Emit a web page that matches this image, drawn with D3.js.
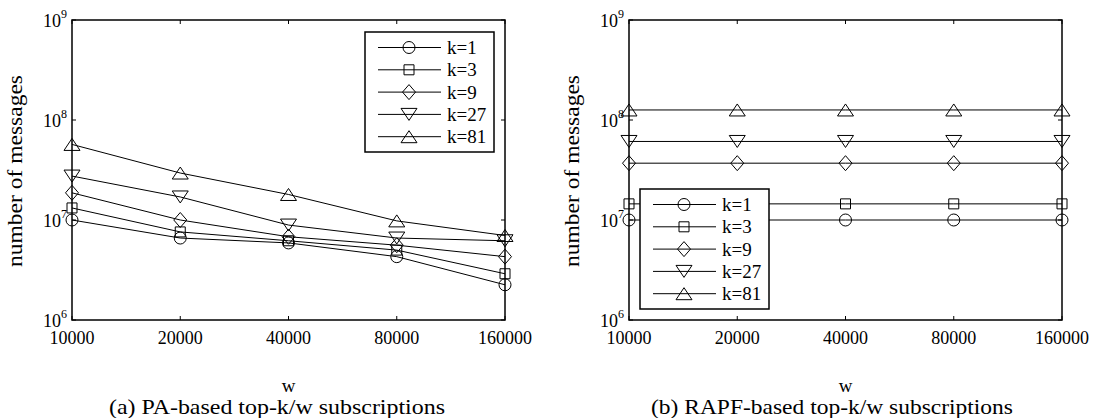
<!DOCTYPE html>
<html>
<head>
<meta charset="utf-8">
<script src="https://cdn.jsdelivr.net/npm/d3@7"></script>
<style>
  body { margin: 0; background: #fff; }
</style>
</head>
<body>
<svg class="chart"></svg>
<script>
// x categories (w) and series labels
const wValues = ['10000', '20000', '40000', '80000', '160000'];
const kLabels = ['k=1', 'k=3', 'k=9', 'k=27', 'k=81'];
const yTicks = [6, 7, 8, 9]; // decades

// (a) PA-based values, one array per k
const paK1 = [1.0e7, 6.6e6, 5.9e6, 4.3e6, 2.25e6];
const paK3 = [1.32e7, 7.6e6, 6.2e6, 5.0e6, 2.9e6];
const paK9 = [1.87e7, 1.0e7, 6.8e6, 5.6e6, 4.3e6];
const paK27 = [2.75e7, 1.7e7, 8.9e6, 6.6e6, 6.2e6];
const paK81 = [5.7e7, 2.95e7, 1.8e7, 9.8e6, 7.0e6];

// (b) RAPF-based values
const rapfK1 = [1.0e7, 1.0e7, 1.0e7, 1.0e7, 1.0e7];
const rapfK3 = [1.45e7, 1.45e7, 1.45e7, 1.45e7, 1.45e7];
const rapfK9 = [3.7e7, 3.7e7, 3.7e7, 3.7e7, 3.7e7];
const rapfK27 = [6.1e7, 6.1e7, 6.1e7, 6.1e7, 6.1e7];
const rapfK81 = [1.26e8, 1.26e8, 1.26e8, 1.26e8, 1.26e8];

const svgWidth = 1096;
const svgHeight = 418;
const svg = d3.select('.chart')
  .attr('width', svgWidth)
  .attr('height', svgHeight)
  .attr('font-family', "'Liberation Serif', 'Times New Roman', Times, serif");

// marker shapes (matlab style: o, s, d, v, ^)
const markers = [
  'M6,0A6,6 0 1,1 -6,0A6,6 0 1,1 6,0Z',
  'M-5,-5H5V5H-5Z',
  'M0,-7.5L6.5,0L0,7.5L-6.5,0Z',
  'M-8,-6H8L0,6Z',
  'M-8,6H8L0,-6Z'
];

function drawPanel(opts) {
  const x0 = opts.left, x1 = opts.left + 433;
  const y0 = 20, y1 = 320;

  const xScale = d3.scalePoint().domain(wValues).range([x0, x1]);
  const yScale = d3.scaleLog().domain([1e6, 1e9]).range([y1, y0]);

  const g = svg.append('g');

  // series lines + markers
  opts.series.forEach((vals, i) => {
    const line = d3.line()
      .x((d, j) => xScale(wValues[j]))
      .y(d => yScale(d));
    g.append('path')
      .datum(vals)
      .attr('fill', 'none')
      .attr('stroke', '#000')
      .attr('stroke-width', 1)
      .attr('d', line);
    g.selectAll('.m' + i)
      .data(vals)
      .enter()
      .append('path')
      .attr('transform', (d, j) => 'translate(' + xScale(wValues[j]) + ',' + yScale(d) + ')')
      .attr('d', markers[i])
      .attr('fill', 'none')
      .attr('stroke', '#000')
      .attr('stroke-width', 1);
  });

  // frame
  g.append('rect')
    .attr('x', x0).attr('y', y0)
    .attr('width', x1 - x0).attr('height', y1 - y0)
    .attr('fill', 'none')
    .attr('stroke', '#000')
    .attr('stroke-width', 1.5);

  // x ticks (inside, bottom and top)
  wValues.forEach(w => {
    const x = xScale(w);
    g.append('line').attr('x1', x).attr('x2', x).attr('y1', y1).attr('y2', y1 - 4)
      .attr('stroke', '#000');
    g.append('line').attr('x1', x).attr('x2', x).attr('y1', y0).attr('y2', y0 + 4)
      .attr('stroke', '#000');
    g.append('text')
      .attr('x', x)
      .attr('y', 344)
      .attr('text-anchor', 'middle')
      .attr('font-size', '18px')
      .text(w);
  });

  // y ticks (decades)
  yTicks.forEach(p => {
    const y = yScale(Math.pow(10, p));
    g.append('line').attr('x1', x0).attr('x2', x0 + 4).attr('y1', y).attr('y2', y)
      .attr('stroke', '#000');
    g.append('line').attr('x1', x1).attr('x2', x1 - 4).attr('y1', y).attr('y2', y)
      .attr('stroke', '#000');
    const t = g.append('text')
      .attr('x', x0 - 5)
      .attr('y', y + 7)
      .attr('text-anchor', 'end')
      .attr('font-size', '18px');
    t.append('tspan').text('10');
    t.append('tspan').attr('font-size', '12px').attr('dy', -9).text(p);
  });

  // axis labels
  g.append('text')
    .attr('x', (x0 + x1) / 2)
    .attr('y', 392)
    .attr('text-anchor', 'middle')
    .attr('font-size', '19px')
    .text('w');

  g.append('text')
    .attr('transform', 'translate(' + (x0 - 50) + ',' + 171 + ') rotate(-90)')
    .attr('text-anchor', 'middle')
    .attr('font-size', '21px')
    .attr('textLength', 192)
    .attr('lengthAdjust', 'spacingAndGlyphs')
    .text('number of messages');

  // caption
  g.append('text')
    .attr('x', opts.capX)
    .attr('y', 414)
    .attr('text-anchor', 'middle')
    .attr('font-size', '21px')
    .attr('textLength', opts.capW)
    .attr('lengthAdjust', 'spacingAndGlyphs')
    .text(opts.caption);

  // legend
  const lg = opts.legend;
  g.append('rect')
    .attr('x', lg.x).attr('y', lg.y)
    .attr('width', 129).attr('height', 120)
    .attr('fill', '#fff')
    .attr('stroke', '#000')
    .attr('stroke-width', 1.5);
  kLabels.forEach((k, i) => {
    const yy = lg.y + 15.5 + i * 22.3;
    g.append('line')
      .attr('x1', lg.x + 13).attr('x2', lg.x + 76)
      .attr('y1', yy).attr('y2', yy)
      .attr('stroke', '#000');
    g.append('path')
      .attr('transform', 'translate(' + (lg.x + 44) + ',' + yy + ')')
      .attr('d', markers[i])
      .attr('fill', 'none')
      .attr('stroke', '#000');
    g.append('text')
      .attr('x', lg.x + 82)
      .attr('y', yy + 6.5)
      .attr('font-size', '19px')
      .text(k);
  });
}

drawPanel({
  left: 72,
  series: [paK1, paK3, paK9, paK27, paK81],
  legend: { x: 365, y: 32 },
  caption: '(a) PA-based top-k/w subscriptions',
  capX: 277, capW: 336
});

drawPanel({
  left: 629,
  series: [rapfK1, rapfK3, rapfK9, rapfK27, rapfK81],
  legend: { x: 640, y: 189 },
  caption: '(b) RAPF-based top-k/w subscriptions',
  capX: 832, capW: 362
});
</script>
</body>
</html>
